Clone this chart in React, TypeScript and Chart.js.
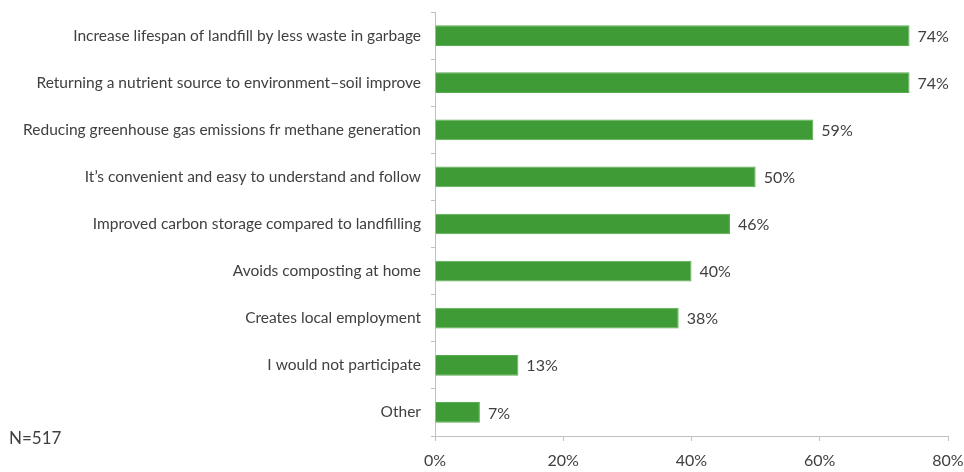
import React, { useEffect, useRef } from "react";
import { Chart, registerables } from "chart.js";

Chart.register(...registerables);

const categories = [
  "Increase lifespan of landfill by less waste in garbage",
  "Returning a nutrient source to environment\u2013soil improve",
  "Reducing greenhouse gas emissions fr methane generation",
  "It\u2019s convenient and easy to understand and follow",
  "Improved carbon storage compared to landfilling",
  "Avoids composting at home",
  "Creates local employment",
  "I would not participate",
  "Other",
];
const values = [74, 74, 59, 50, 46, 40, 38, 13, 7];
const xTicks = [0, 20, 40, 60, 80];
const noteText = "N=517";

const FONT = "Lato, 'Open Sans', sans-serif";
const TEXT = "#404040";
const AXIS = "#c0c0c0";

const valueLabels = {
  id: "valueLabels",
  afterDatasetsDraw(chart: any) {
    const ctx = chart.ctx;
    const meta = chart.getDatasetMeta(0);
    ctx.save();
    ctx.font = `16px ${FONT}`;
    ctx.fillStyle = TEXT;
    ctx.textAlign = "left";
    ctx.textBaseline = "middle";
    meta.data.forEach((bar: any, i: number) => {
      ctx.fillText(values[i] + "%", bar.x + 8, bar.y + 1);
    });
    ctx.font = `17px ${FONT}`;
    ctx.fillText(noteText, 9, 439);
    ctx.restore();
  },
};

export default function App() {
  const ref = useRef<HTMLCanvasElement>(null);
  useEffect(() => {
    const chart = new Chart(ref.current!, {
      type: "bar",
      data: {
        labels: categories,
        datasets: [
          {
            data: values,
            backgroundColor: "#3e9b36",
            borderColor: "#5aad4e",
            borderWidth: 1,
            barPercentage: 0.44,
            categoryPercentage: 1,
          },
        ],
      },
      options: {
        indexAxis: "y",
        animation: false,
        responsive: false,
        devicePixelRatio: 1,
        layout: { padding: { left: 0, right: 16, top: 12, bottom: 0 } },
        plugins: {
          legend: { display: false },
          tooltip: { enabled: false },
        },
        scales: {
          x: {
            min: 0,
            max: 80,
            afterBuildTicks(scale: any) {
              scale.ticks = xTicks.map((v) => ({ value: v }));
            },
            afterFit(scale: any) {
              scale.height = 36;
              scale.paddingLeft = 0;
              scale.paddingRight = 0;
            },
            ticks: {
              color: TEXT,
              font: { family: FONT, size: 16 },
              padding: 10,
              callback: (v: any) => v + "%",
            },
            grid: {
              drawOnChartArea: false,
              drawTicks: true,
              tickLength: 5,
              color: AXIS,
            },
            border: { color: AXIS, width: 1 },
          },
          y: {
            afterFit(scale: any) {
              scale.width = 435;
              scale.paddingTop = 0;
              scale.paddingBottom = 0;
            },
            ticks: {
              color: TEXT,
              font: { family: FONT, size: 15.5 },
              padding: 10,
            },
            grid: {
              drawOnChartArea: false,
              drawTicks: true,
              tickLength: 4,
              color: AXIS,
              offset: true,
            },
            border: { color: AXIS, width: 1 },
          },
        },
      },
      plugins: [valueLabels],
    });
    return () => chart.destroy();
  }, []);
  return (
    <div style={{ position: "fixed", left: 0, top: 0, width: 964, height: 472, background: "#fff" }}>
      <canvas ref={ref} width={964} height={472} style={{ width: 964, height: 472 }} />
    </div>
  );
}
